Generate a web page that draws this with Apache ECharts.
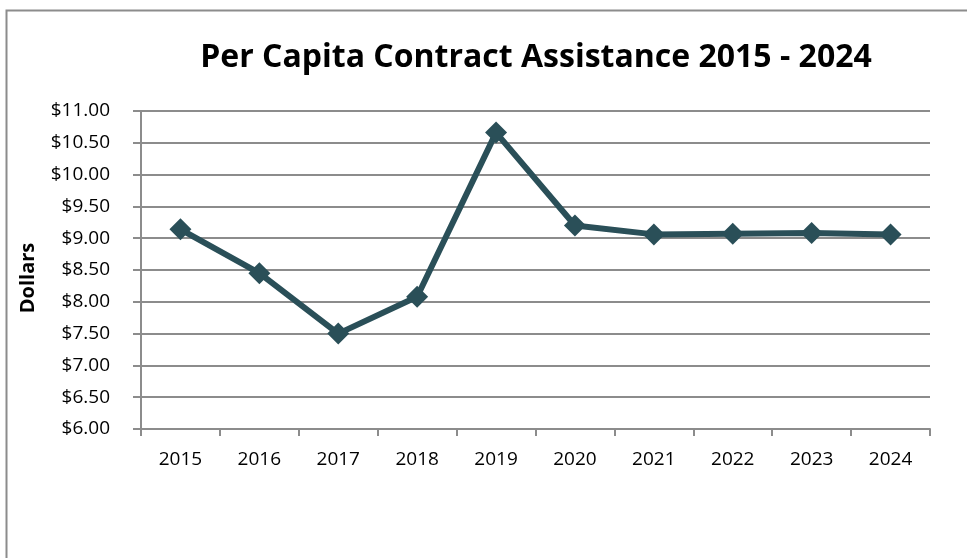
<!DOCTYPE html>
<html><head><meta charset="utf-8">
<script src="https://cdn.jsdelivr.net/npm/echarts@6/dist/echarts.min.js"></script>
<style>html,body{margin:0;padding:0;background:#fff}#c{width:967px;height:558px}</style>
</head><body><div id="c"></div>
<script>
const years = ['2015','2016','2017','2018','2019','2020','2021','2022','2023','2024'];
const perCapita = [9.14, 8.45, 7.50, 8.08, 10.66, 9.20, 9.06, 9.07, 9.08, 9.06];
const titleText = 'Per Capita Contract Assistance 2015 - 2024';
const yAxisName = 'Dollars';

const chart = echarts.init(document.getElementById('c'), null, {renderer:'canvas'});
chart.setOption({
  animation:false,
  backgroundColor:'#fff',
  graphic:[{type:'rect', left:4, top:8, shape:{width:1000, height:600}, style:{fill:'none', stroke:'#8c8c8c', lineWidth:2}, z:-1}],
  title:{text:titleText, left:531, textAlign:'center', top:37,
    textStyle:{fontFamily:'Open Sans', fontWeight:'bold', fontSize:32, color:'#000'}},
  grid:{left:141, right:37, top:111, bottom:129},
  xAxis:{type:'category', data:years, boundaryGap:true,
    axisLine:{lineStyle:{color:'#8c8c8c', width:2}},
    axisTick:{show:true, length:7, lineStyle:{color:'#8c8c8c', width:2}},
    axisLabel:{fontFamily:'Open Sans', fontSize:19, color:'#000', margin:21}},
  yAxis:{type:'value', min:6, max:11, interval:0.5,
    name:yAxisName, nameLocation:'middle', nameGap:103, nameRotate:90,
    nameTextStyle:{fontFamily:'Open Sans', fontWeight:'bold', fontSize:20, color:'#000', padding:[0,16,0,0]},
    axisLine:{show:true, lineStyle:{color:'#8c8c8c', width:2}},
    axisTick:{show:true, length:8, lineStyle:{color:'#8c8c8c', width:2}},
    splitLine:{show:true, lineStyle:{color:'#8c8c8c', width:2}},
    axisLabel:{fontFamily:'Open Sans', fontSize:19, color:'#000', margin:31,
      formatter:v=>'$'+v.toFixed(2)}},
  series:[{type:'line', data:perCapita, symbol:'diamond', symbolSize:22,
    lineStyle:{color:'#2a4f58', width:6}, itemStyle:{color:'#2a4f58'}}]
});
</script></body></html>
